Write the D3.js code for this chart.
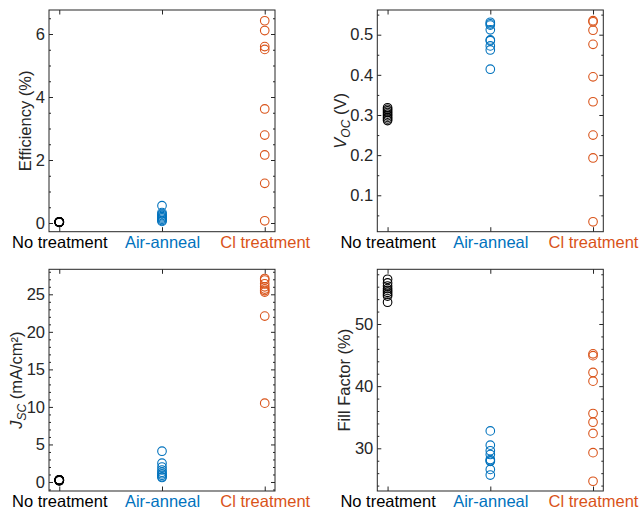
<!DOCTYPE html>
<html>
<head>
<meta charset="utf-8">
<script src="https://cdn.jsdelivr.net/npm/d3@7"></script>
<style>
  body { margin: 0; background: #fff; }
  svg { display: block; font-family: "Liberation Sans", Arial, sans-serif; }
</style>
</head>
<body>
<script>
// categories along x
var categories = ['No treatment', 'Air-anneal', 'Cl treatment'];
var catColors = ['#000000', '#0072BD', '#D95319'];
var labelColors = ['#000000', '#0072BD', '#D95319'];

// Efficiency (%)
var effNone = [0.03, 0.03, 0.04, 0.02, 0.03, 0.04, 0.03, 0.02, 0.03];
var effAir = [0.55, 0.33, 0.28, 0.24, 0.20, 0.16, 0.12, 0.08, 0.05];
var effCl = [6.42, 6.11, 5.60, 5.51, 3.62, 2.79, 2.16, 1.26, 0.07];

// Voc (V)
var vocNone = [0.318, 0.314, 0.310, 0.306, 0.302, 0.298, 0.294, 0.290, 0.286];
var vocAir = [0.531, 0.527, 0.524, 0.512, 0.487, 0.485, 0.472, 0.462, 0.414];
var vocCl = [0.535, 0.532, 0.511, 0.476, 0.395, 0.333, 0.250, 0.193, 0.034];

// Jsc (mA/cm2)
var jscNone = [0.20, 0.25, 0.30, 0.15, 0.20, 0.25, 0.30, 0.20, 0.25];
var jscAir = [4.1, 2.5, 2.0, 1.6, 1.3, 1.1, 0.9, 0.7, 0.6];
var jscCl = [27.1, 26.9, 26.4, 26.0, 25.7, 25.5, 25.3, 22.1, 10.5];

// Fill factor (%)
var ffNone = [57.2, 56.6, 56.1, 55.7, 55.4, 55.1, 54.8, 54.5, 53.5];
var ffAir = [32.8, 30.5, 29.6, 29.0, 28.2, 28.0, 27.9, 26.6, 25.7];
var ffCl = [45.2, 44.9, 42.2, 40.8, 35.6, 34.2, 32.4, 29.3, 24.7];

// tick labels
var effTicks = [0, 2, 4, 6];
var vocTicks = [0.1, 0.2, 0.3, 0.4, 0.5];
var jscTicks = [0, 5, 10, 15, 20, 25];
var ffTicks = [30, 40, 50];

(function() {
  var W = 639;
  var H = 512;
  var axisColor = '#262626';
  var fontSize = 16.5;

  var svg = d3
    .select('body')
    .append('svg')
    .attr('width', W)
    .attr('height', H);

  var panels = [
    { x: 49, y: 10, groups: [effNone, effAir, effCl], ylim: [-0.276, 6.762], ticks: effTicks, minorStep: 0.5, fmt: d3.format('d'), label: [{ t: 'Efficiency (%)' }], labelX: 25 },
    { x: 377.3, y: 10, groups: [vocNone, vocAir, vocCl], ylim: [0.0093, 0.5615], ticks: vocTicks, minorStep: 0.05, fmt: d3.format('.1f'), label: [{ t: 'V', it: true }, { t: 'OC', it: true, sub: true }, { t: ' (V)' }], labelX: 340 },
    { x: 49, y: 269.3, groups: [jscNone, jscAir, jscCl], ylim: [-1.2, 28.33], ticks: jscTicks, minorStep: 1, fmt: d3.format('d'), label: [{ t: 'J', it: true }, { t: 'SC', it: true, sub: true }, { t: ' (mA/cm²)' }], labelX: 16 },
    { x: 377.3, y: 269.3, groups: [ffNone, ffAir, ffCl], ylim: [23.13, 58.8], ticks: ffTicks, minorStep: 2, fmt: d3.format('d'), label: [{ t: 'Fill Factor (%)' }], labelX: 344.5 }
  ];

  var pw = 226;
  var ph = 221.7;

  panels.forEach(function(p) {
    var g = svg.append('g').attr('transform', `translate(${p.x},${p.y})`);

    var xScale = d3.scaleLinear().domain([0.9, 3.1]).range([0, pw]);
    var yScale = d3.scaleLinear().domain(p.ylim).range([ph, 0]);

    var minor = d3
      .range(Math.ceil(p.ylim[0] / p.minorStep), Math.floor(p.ylim[1] / p.minorStep) + 1)
      .map(i => +(i * p.minorStep).toFixed(4))
      .filter(v => p.ticks.indexOf(v) < 0);

    // minor ticks left / right
    g.append('g')
      .call(d3.axisLeft(yScale).tickValues(minor).tickSizeInner(-2).tickSizeOuter(0).tickFormat(''));
    g.append('g')
      .attr('transform', `translate(${pw},0)`)
      .call(d3.axisRight(yScale).tickValues(minor).tickSizeInner(-2).tickSizeOuter(0).tickFormat(''));

    // major ticks
    g.append('g')
      .attr('class', 'yaxis')
      .call(d3.axisLeft(yScale).tickValues(p.ticks).tickSizeInner(-4).tickSizeOuter(0).tickPadding(4).tickFormat(p.fmt));
    g.append('g')
      .attr('transform', `translate(${pw},0)`)
      .call(d3.axisRight(yScale).tickValues(p.ticks).tickSizeInner(-4).tickSizeOuter(0).tickFormat(''));

    g.append('g')
      .attr('class', 'xaxis')
      .attr('transform', `translate(0,${ph})`)
      .call(d3.axisBottom(xScale).tickValues([1, 2, 3]).tickSizeInner(-4.5).tickSizeOuter(0).tickPadding(6).tickFormat((d, i) => categories[i]));
    g.append('g')
      .call(d3.axisTop(xScale).tickValues([1, 2, 3]).tickSizeInner(-4.5).tickSizeOuter(0).tickFormat(''));

    g.selectAll('.domain').remove();
    g.selectAll('.tick line').attr('stroke', axisColor).attr('stroke-width', 1);
    g.selectAll('.tick text')
      .attr('font-family', '"Liberation Sans", Arial, sans-serif')
      .attr('font-size', fontSize)
      .attr('fill', axisColor);
    g.selectAll('.xaxis .tick text')
      .attr('fill', (d, i) => labelColors[i])
      .attr('dy', '0.62em');

    // box
    g.append('rect')
      .attr('width', pw)
      .attr('height', ph)
      .attr('fill', 'none')
      .attr('stroke', axisColor)
      .attr('stroke-width', 1);

    // points
    p.groups.forEach(function(vals, gi) {
      g.append('g')
        .selectAll('circle')
        .data(vals)
        .enter()
        .append('circle')
        .attr('cx', xScale(gi + 1))
        .attr('cy', d => yScale(d))
        .attr('r', 4.3)
        .attr('fill', 'none')
        .attr('stroke', catColors[gi])
        .attr('stroke-width', 1.1);
    });

    // y label
    var lab = svg
      .append('text')
      .attr('transform', `translate(${p.labelX},${p.y + ph / 2}) rotate(-90)`)
      .attr('text-anchor', 'middle')
      .attr('dy', '0.35em')
      .attr('font-size', fontSize)
      .attr('fill', axisColor);

    p.label.forEach(function(part, i) {
      var span = lab.append('tspan').text(part.t);
      if (part.it) span.attr('font-style', 'italic');
      if (part.sub) span.attr('font-size', 12).attr('dy', 4);
      else if (i > 0 && p.label[i - 1].sub) span.attr('dy', -4);
    });
  });
})();
</script>
</body>
</html>
